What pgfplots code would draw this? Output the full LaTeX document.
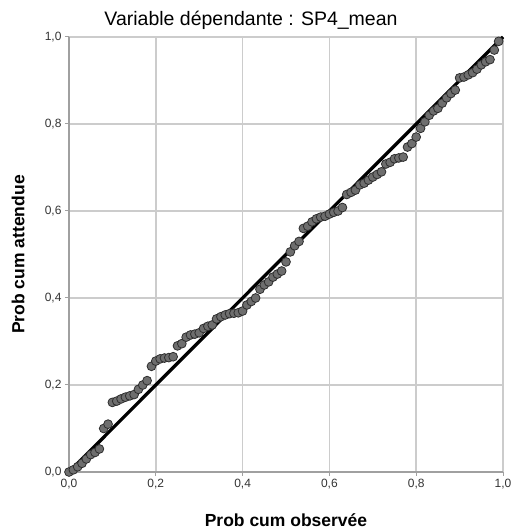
\documentclass[border=0pt]{standalone}
\usepackage{fontspec}
\setmainfont{Liberation Sans}
\usepackage{pgfplots}
\pgfplotsset{compat=1.18}
\definecolor{gridgray}{HTML}{CCCCCC}
\definecolor{axisgray}{HTML}{A0A0A0}
\definecolor{dotfill}{HTML}{6E6E6E}
\definecolor{dotedge}{HTML}{2E2E2E}
\begin{document}
\begin{tikzpicture}
% picture frame = reference canvas (512 x 530)
\path[use as bounding box] (-69pt,-58pt) rectangle (443pt,472pt);
\begin{axis}[
  at={(0,0)}, anchor=south west,
  scale only axis, width=434pt, height=435pt,
  xmin=0, xmax=1, ymin=0, ymax=1,
  xtick={0,0.2,0.4,0.6,0.8,1.0},
  ytick={0,0.2,0.4,0.6,0.8,1.0},
  /pgf/number format/assume math mode=true,
  /pgf/number format/.cd, fixed, fixed zerofill, precision=1, use comma,
  /pgfplots/.cd,
  ticklabel style={font=\fontsize{12}{14}\selectfont, text=black!80},
  grid=major,
  grid style={gridgray, line width=1.5pt},
  axis x line*=bottom, axis y line*=left,
  axis line style={-, axisgray, line width=1.5pt},
  tick style={axisgray, line width=1pt},
  tick align=outside, major tick length=4pt,
  title={Variable dépendante : SP4\_mean},
  title style={font=\fontsize{19.5}{22}\selectfont, xshift=-35pt, yshift=-2pt},
  xlabel={\bfseries Prob cum observée},
  ylabel={\bfseries Prob cum attendue},
  label style={font=\fontsize{17.5}{20}\selectfont},
  xlabel style={at={(axis description cs:0.5,0)}, anchor=center, yshift=-48.5pt},
  ylabel style={at={(axis description cs:0,0.5)}, anchor=center, yshift=51pt},
  clip=false,
]
\addplot[only marks, mark=*, mark size=4.4pt,
  mark options={fill=dotfill, draw=dotedge, line width=0.8pt}] table {
x y
0.00 0.000
0.01 0.005
0.02 0.012
0.03 0.020
0.04 0.030
0.05 0.040
0.06 0.045
0.07 0.053
0.08 0.100
0.09 0.110
0.10 0.160
0.11 0.163
0.12 0.168
0.13 0.172
0.14 0.175
0.15 0.178
0.16 0.190
0.17 0.200
0.18 0.210
0.19 0.243
0.20 0.255
0.21 0.260
0.22 0.262
0.23 0.263
0.24 0.265
0.25 0.290
0.26 0.295
0.27 0.310
0.28 0.315
0.29 0.317
0.30 0.320
0.31 0.330
0.32 0.335
0.33 0.338
0.34 0.352
0.35 0.357
0.36 0.361
0.37 0.364
0.38 0.365
0.39 0.366
0.40 0.370
0.41 0.384
0.42 0.392
0.43 0.400
0.44 0.420
0.45 0.430
0.46 0.437
0.47 0.448
0.48 0.455
0.49 0.462
0.50 0.483
0.51 0.506
0.52 0.520
0.53 0.530
0.54 0.560
0.55 0.565
0.56 0.575
0.57 0.582
0.58 0.586
0.59 0.588
0.60 0.593
0.61 0.597
0.62 0.600
0.63 0.608
0.64 0.638
0.65 0.643
0.66 0.648
0.67 0.660
0.68 0.664
0.69 0.671
0.70 0.678
0.71 0.684
0.72 0.690
0.73 0.708
0.74 0.712
0.75 0.720
0.76 0.722
0.77 0.724
0.78 0.747
0.79 0.755
0.80 0.770
0.81 0.790
0.82 0.805
0.83 0.820
0.84 0.830
0.85 0.836
0.86 0.848
0.87 0.860
0.88 0.870
0.89 0.878
0.90 0.906
0.91 0.908
0.92 0.913
0.93 0.918
0.94 0.926
0.95 0.936
0.96 0.943
0.97 0.948
0.98 0.970
0.99 0.990
};
\addplot[black, line width=3.3pt] coordinates {(0,0) (1,1)};
\end{axis}
\end{tikzpicture}
\end{document}
